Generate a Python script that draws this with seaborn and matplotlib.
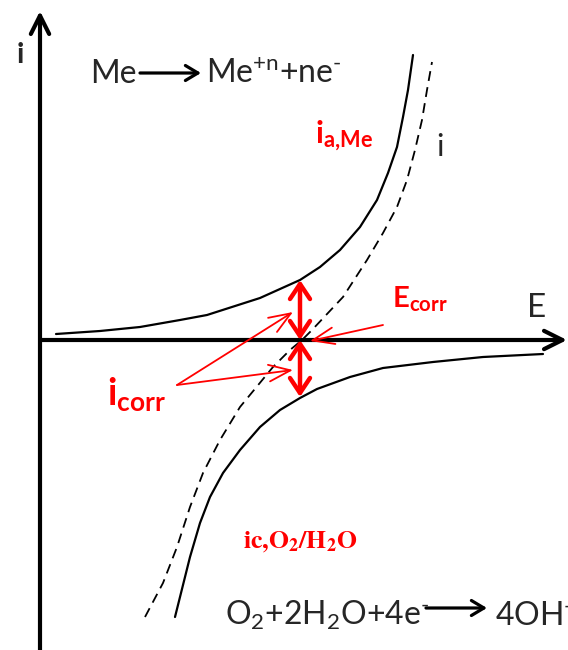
import matplotlib
matplotlib.use("Agg")
import matplotlib.pyplot as plt
import numpy as np
import pandas as pd
import seaborn as sns

# Evans diagram: potential E (x) against current i (y), arbitrary units
anodic_E = [16, 60, 100, 140, 167, 220, 260, 280, 300, 320, 337, 348, 357, 363, 368, 373]
anodic_i = [6, 9, 13, 20, 25, 42, 60, 73, 90, 113, 140, 167, 193, 223, 250, 285]

cathodic_E = [135, 140, 150, 160, 170, 183, 200, 220, 240, 260, 277, 310, 343, 393, 443, 503]
cathodic_i = [-277, -257, -217, -183, -157, -133, -110, -87, -70, -58, -49, -37, -28, -22, -17, -14]

total_E = [105, 123, 137, 150, 163, 180, 200, 233, 250, 262, 272, 303, 327, 343,
           357, 367, 375, 382, 387, 392]
total_i = [-277, -243, -207, -167, -133, -100, -67, -27, -10, 0, 10, 43, 80, 107,
           133, 160, 190, 220, 250, 278]

E_corr = 260
i_corr_anodic = 60
i_corr_cathodic = -57

RED = "#ff0000"

sns.set_theme(style="white")
plt.rcParams["font.family"] = ["Lato", "DejaVu Sans"]
plt.rcParams["mathtext.fontset"] = "custom"
plt.rcParams["mathtext.rm"] = "Lato"
plt.rcParams["mathtext.bf"] = "Lato:bold"
plt.rcParams["mathtext.it"] = "Lato:italic"

fig = plt.figure(figsize=(5.68, 6.5), dpi=100)
ax = fig.add_axes([0, 0, 1, 1])
ax.set_xlim(-40, 528)
ax.set_ylim(-310, 340)
ax.axis("off")

curves = pd.concat([
    pd.DataFrame({"E": anodic_E, "i": anodic_i, "curve": "anodic"}),
    pd.DataFrame({"E": cathodic_E, "i": cathodic_i, "curve": "cathodic"}),
])
total = pd.DataFrame({"E": total_E, "i": total_i})

sns.lineplot(data=curves, x="E", y="i", units="curve", estimator=None,
             sort=False, color="black", lw=1.6, ax=ax)
sns.lineplot(data=total, x="E", y="i", estimator=None, sort=False,
             color="black", lw=1.3, ax=ax, linestyle=(0, (5.5, 3.5)))
ax.set_xlabel("")
ax.set_ylabel("")

# coordinate axes with open arrow heads
axis_arrow = dict(arrowstyle="->,head_length=1.1,head_width=0.55",
                  lw=3, color="black", shrinkA=0, shrinkB=0)
ax.annotate("", xy=(0, 329), xytext=(0, -312), arrowprops=axis_arrow)
ax.annotate("", xy=(527, 0), xytext=(0, 0), arrowprops=axis_arrow)

# corrosion current: double arrows above and below E_corr
red_double = dict(arrowstyle="<->,head_length=0.9,head_width=0.6",
                  lw=3.2, color=RED, shrinkA=0, shrinkB=0)
ax.annotate("", xy=(E_corr, i_corr_anodic), xytext=(E_corr, 0),
            arrowprops=red_double)
ax.annotate("", xy=(E_corr, i_corr_cathodic), xytext=(E_corr, 0),
            arrowprops=red_double)

thin_red = dict(arrowstyle="->,head_length=1.3,head_width=0.5",
                lw=1.3, color=RED, shrinkA=0, shrinkB=0)
ax.annotate("", xy=(270, -1), xytext=(343, 15), arrowprops=thin_red)
ax.annotate("", xy=(253, 28), xytext=(137, -45), arrowprops=thin_red)
ax.annotate("", xy=(253, -30), xytext=(137, -45), arrowprops=thin_red)

# reaction arrows
react_arrow = dict(arrowstyle="->,head_length=0.75,head_width=0.45",
                   lw=2.3, color="black", shrinkA=0, shrinkB=0)
ax.annotate("", xy=(161, 267), xytext=(100, 267), arrowprops=react_arrow)
ax.annotate("", xy=(447, -268), xytext=(386, -268), arrowprops=react_arrow)

# labels
ax.text(-20, 285, "i", fontsize=21, fontweight="bold", ha="center", va="center")
ax.text(50, 257, "Me", fontsize=23, va="baseline")
ax.text(166, 257, r"Me$^{\mathrm{+n}}$+ne$^{\text{-}}$", fontsize=23, va="baseline")
ax.text(275, 197, r"$\mathbf{i}_{\mathbf{a{,}Me}}$", fontsize=22.5, color=RED, va="baseline")
ax.text(400, 193, "i", fontsize=22, ha="center", va="center")
ax.text(352, 32, r"$\mathbf{E}_{\mathbf{corr}}$", fontsize=21, color=RED, va="baseline")
ax.text(487, 23, "E", fontsize=24, va="baseline")
ax.text(67, -65, r"$\mathbf{i}_{\mathbf{corr}}$", fontsize=27, color=RED, va="baseline")
ax.text(203, -208, r"$\mathbf{ic{,}O_2/H_2O}$", fontsize=18.5, color=RED,
        va="baseline", math_fontfamily="stix")
ax.text(185, -285, r"O$_2$+2H$_2$O+4e$^{\text{-}}$", fontsize=23, va="baseline")
ax.text(455, -285, r"4OH$^{\text{-}}$", fontsize=23, va="baseline")

fig.savefig("out.png", dpi=100)
